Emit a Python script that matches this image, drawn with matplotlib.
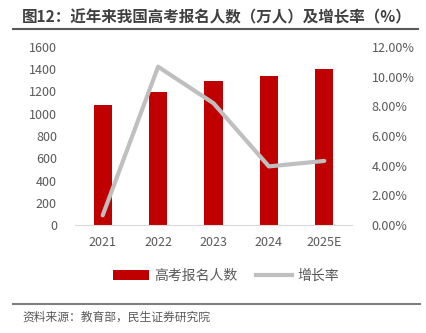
import matplotlib
matplotlib.use("Agg")
import matplotlib.pyplot as plt
from matplotlib.lines import Line2D
from matplotlib.patches import Patch

plt.rcParams['font.family'] = ['Noto Sans CJK SC', 'DejaVu Sans']

years = ["2021", "2022", "2023", "2024", "2025E"]
applicants = [1078, 1193, 1291, 1342, 1400]
growth = [0.65, 10.67, 8.21, 3.95, 4.32]
left_ticks = [0, 200, 400, 600, 800, 1000, 1200, 1400, 1600]
right_ticks = [0, 2, 4, 6, 8, 10, 12]

title = "图12：近年来我国高考报名人数（万人）及增长率（%）"
source = "资料来源：教育部，民生证券研究院"

W, H = 427, 333
fig = plt.figure(figsize=(W / 100, H / 100), dpi=100)
ax = fig.add_axes([75 / W, 1 - 225 / H, (352 - 75) / W, (225 - 47) / H])
x = list(range(len(years)))
ax.bar(x, applicants, width=0.33, color="#C00000", zorder=2)
ax.set_ylim(0, 1600)
ax.set_xlim(-0.5, len(years) - 0.5)
ax.set_yticks(left_ticks)
ax.set_yticklabels([str(v) for v in left_ticks])
ax.set_xticks(x)
ax.set_xticklabels(years)
for s in ["top", "left", "right"]:
    ax.spines[s].set_visible(False)
ax.spines["bottom"].set_color("#D9D9D9")
ax.tick_params(axis="both", length=0, labelsize=9, colors="#595959")
ax.tick_params(axis="y", pad=13)
ax.tick_params(axis="x", pad=8)

ax2 = ax.twinx()
ax2.plot(x, growth, color="#BFBFBF", lw=3, solid_capstyle="round", zorder=3)
ax2.set_ylim(0, 12)
ax2.set_yticks(right_ticks)
ax2.set_yticklabels([f"{v:.2f}%" for v in right_ticks])
for s in ["top", "left", "right", "bottom"]:
    ax2.spines[s].set_visible(False)
ax2.tick_params(axis="y", length=0, labelsize=9, colors="#595959", pad=14)

handles = [Patch(facecolor="#C00000"), Line2D([0], [0], color="#BFBFBF", lw=3)]
fig.legend(handles, ["高考报名人数", "增长率"], loc="center", bbox_to_anchor=(226 / W, 1 - 276 / H),
           ncol=2, frameon=False, fontsize=10, labelcolor="#595959", handlelength=2.6,
           handleheight=0.7, columnspacing=1.3, handletextpad=0.4)

fig.text(22 / W, 1 - 17 / H, title, fontsize=11.2, fontweight="bold", color="#404040", va="center", ha="left")
fig.add_artist(Line2D([13 / W, 418 / W], [1 - 29 / H, 1 - 29 / H], color="#595959", lw=1.5))
fig.add_artist(Line2D([13 / W, 420 / W], [1 - 304 / H, 1 - 304 / H], color="#7F7F7F", lw=1.5))
fig.text(22 / W, 1 - 317 / H, source, fontsize=8.5, color="#595959", va="center", ha="left")

fig.savefig("out.png", dpi=100)
